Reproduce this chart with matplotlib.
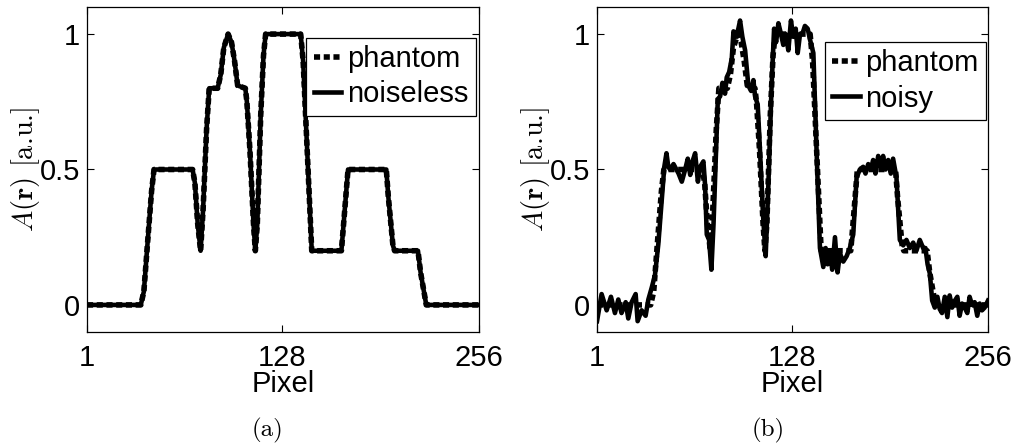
import matplotlib
matplotlib.use("Agg")
import matplotlib.pyplot as plt

plt.rcParams['font.family'] = ['Liberation Sans', 'DejaVu Sans']
plt.rcParams['mathtext.fontset'] = 'cm'

# ---- data ----
phantom_px = [1, 36, 38, 40, 43, 44.6, 69.7, 71.2, 73, 74.9, 76.5, 78.8, 80.5, 86, 88, 90, 92.8, 95, 97,
              99, 104, 105, 107, 109.3, 110.5, 111.8, 114, 115.8, 117.2, 140, 141.6, 144.8, 147.2,
              166.5, 170.8, 195.7, 197, 200, 201.1, 216.3, 218, 221.7, 256]
phantom_val = [0, 0, 0.05, 0.2, 0.42, 0.5, 0.5, 0.45, 0.3, 0.2, 0.35, 0.65, 0.8, 0.8, 0.85, 0.95,
               1.0, 0.97, 0.9, 0.81, 0.8, 0.75, 0.57, 0.3, 0.2, 0.3, 0.7, 0.92, 1.0, 1.0, 0.9, 0.5,
               0.2, 0.2, 0.5, 0.5, 0.4, 0.22, 0.2, 0.2, 0.12, 0, 0]

noiseless_px = list(phantom_px)
noiseless_val = list(phantom_val)

noisy_px = [1, 4, 7.3, 10.1, 12.7, 14.9, 17, 19.7, 21.4, 23.6, 26.2, 27.5, 30.1, 32.7, 34.5, 36.7,
            38.8, 41, 43, 44.9, 46.3, 47.5, 48.7, 50.9, 54.2, 56.3, 58.5, 60.2, 61.8, 63.3, 65,
            66.8, 68.3, 70.4, 71.5, 72.6, 74.1, 75.6, 77, 78.5, 79.8, 81.3, 82.8, 84.5, 85.6,
            87.2, 88.9, 90, 91.5, 93.2, 94.3, 95.8, 97.6, 99.7, 101.5, 103, 104.1, 105.8, 107.3,
            109.3, 111, 112.8, 114.8, 116.5, 117.8, 119.3, 121, 122.5, 124, 125.8, 127.5, 129,
            130.6, 131.9, 133.4, 134.9, 136.6, 138.4, 139.9, 142.1, 144.2, 146.4, 148.6, 150.1,
            151.4, 152.9, 154.4, 156.2, 157.9, 159.4, 161.6, 163.8, 165.9, 168.1, 170.3, 172.4,
            174.6, 176.1, 177.9, 179.6, 181.1, 182.6, 184.4, 186.1, 187.6, 189.2, 190.9, 192.6,
            194.1, 196.3, 198.5, 200.7, 202.8, 205, 207.2, 209.3, 211.5, 213.7, 215.2, 216.6,
            218.1, 219.6, 221.3, 223, 224.5, 226, 227.8, 229.5, 231, 232.6, 234.3, 236, 237.5,
            239.1, 240.8, 242.5, 244, 245.6, 247.3, 249, 250.6, 252.1, 253.8, 256]
noisy_val = [-0.06, 0.04, -0.02, 0.03, -0.03, 0.02, -0.03, 0.01, -0.05, 0.01, 0.04, -0.06, -0.02,
             -0.04, 0.02, 0.064, 0.11, 0.225, 0.37, 0.51, 0.56, 0.51, 0.5, 0.52, 0.485, 0.455,
             0.5, 0.54, 0.48, 0.53, 0.56, 0.455, 0.51, 0.53, 0.44, 0.26, 0.24, 0.13, 0.3, 0.55,
             0.76, 0.77, 0.82, 0.78, 0.84, 0.86, 0.91, 1.01, 0.99, 1.02, 1.05, 0.99, 0.94, 0.81,
             0.79, 0.83, 0.77, 0.74, 0.57, 0.33, 0.18, 0.45, 0.8, 1.02, 0.97, 1.04, 1.0, 0.96,
             1.0, 0.94, 1.05, 0.99, 1.02, 0.93, 1.0, 1.0, 1.03, 1.02, 0.98, 0.93, 0.57, 0.21,
             0.14, 0.21, 0.15, 0.2, 0.13, 0.25, 0.12, 0.19, 0.16, 0.18, 0.21, 0.26, 0.47, 0.5,
             0.51, 0.485, 0.52, 0.5, 0.535, 0.485, 0.55, 0.51, 0.55, 0.5, 0.535, 0.485, 0.54,
             0.47, 0.24, 0.22, 0.24, 0.21, 0.23, 0.2, 0.24, 0.21, 0.21, 0.15, 0.115, 0.016,
             -0.01, 0.03, -0.015, -0.03, 0.03, -0.045, 0.035, -0.01, 0.015, 0.03, -0.04, 0.005,
             -0.01, -0.03, 0.03, 0.0, 0.01, -0.04, 0.005, -0.02, -0.01, 0.016]

xticks = [1, 128, 256]
xticklabels = ['1', '128', '256']
yticks = [0, 0.5, 1]
yticklabels = ['0', '0.5', '1']

panels = [
    dict(rect=[87/1016, 114/446, 392/1016, 325/446], sx=noiseless_px, sy=noiseless_val,
         label='noiseless', caption='(a)', capx=267/1016, leg=(0.992, 0.905), ylx=-0.115),
    dict(rect=[597/1016, 114/446, 391/1016, 325/446], sx=noisy_px, sy=noisy_val,
         label='noisy', caption='(b)', capx=768/1016, leg=(0.995, 0.892), ylx=-0.115),
]

fig = plt.figure(figsize=(10.16, 4.46), dpi=100)
FS = 21
for p in panels:
    ax = fig.add_axes(p['rect'])
    ax.plot(p['sx'], p['sy'], color='black', lw=3.3, solid_joinstyle='round', zorder=2,
            label=p['label'])
    ax.plot(phantom_px, phantom_val, color='black', lw=4.0, linestyle=(0, (1.1, 0.65)),
            zorder=3, label='phantom')
    ax.set_xlim(1, 256)
    ax.set_ylim(-0.1, 1.1)
    ax.set_xticks(xticks)
    ax.set_xticklabels(xticklabels)
    ax.set_yticks(yticks)
    ax.set_yticklabels(yticklabels)
    ax.tick_params(direction='in', length=5, width=0.8, top=True, right=True,
                   labelsize=FS, pad=5)
    ax.tick_params(axis='x', pad=9)
    for s in ax.spines.values():
        s.set_linewidth(0.9)
    ax.set_xlabel('Pixel', fontsize=FS, labelpad=-2)
    ax.set_ylabel(r'$A(\mathbf{r})$ [a.u.]', fontsize=20.5, family='cmr10')
    ax.yaxis.set_label_coords(p['ylx'], 0.5)
    h, l = ax.get_legend_handles_labels()
    leg = ax.legend([h[1], h[0]], [l[1], l[0]], loc='upper right', bbox_to_anchor=p['leg'],
                    borderaxespad=0, fontsize=FS, frameon=True, fancybox=False,
                    edgecolor='black', framealpha=1, handlelength=0.95, handletextpad=0.2,
                    borderpad=0.25, labelspacing=0.25)
    leg.get_frame().set_linewidth(0.9)
    fig.text(p['capx'], 1 - 430/446, p['caption'], fontsize=18, family='cmr10',
             ha='center', va='center')

fig.savefig('out.png', dpi=100)
